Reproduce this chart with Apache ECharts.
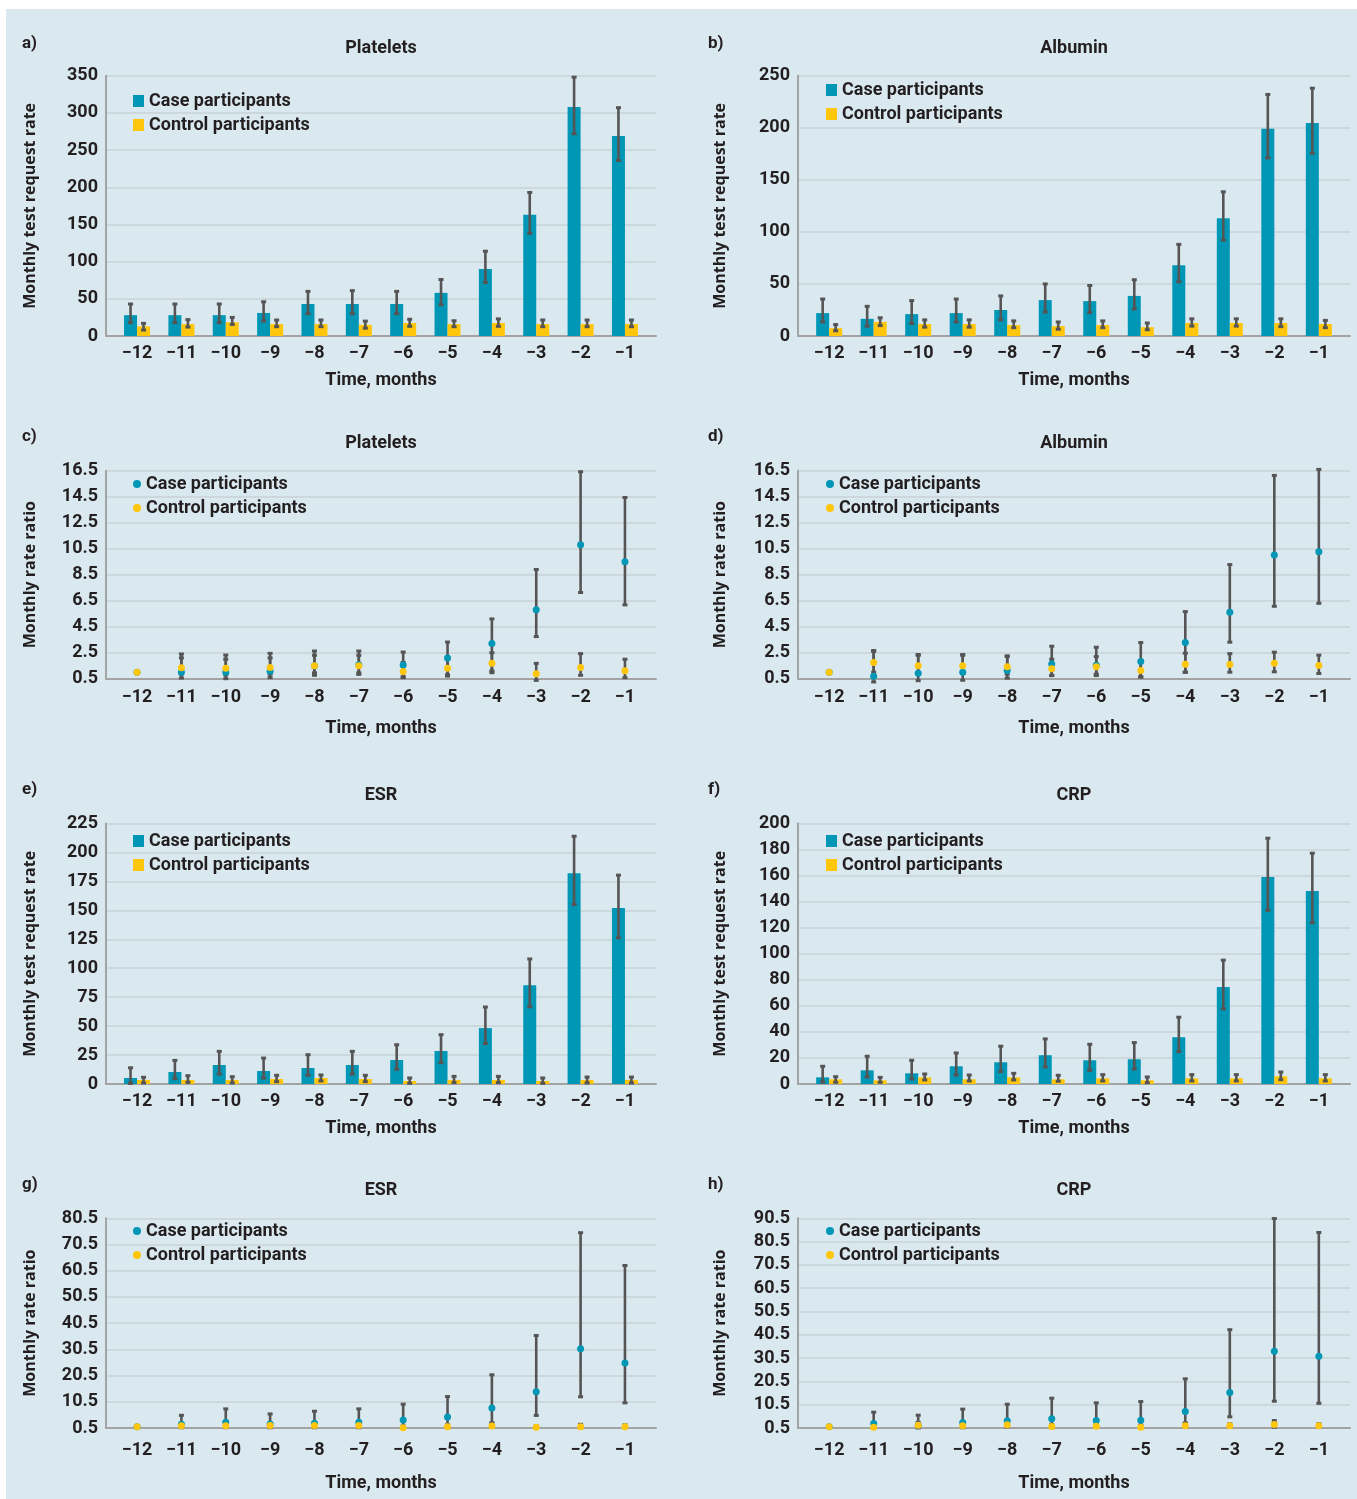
<!DOCTYPE html>
<html>
<head>
<meta charset="utf-8">
<script src="https://cdn.jsdelivr.net/npm/echarts@6/dist/echarts.min.js"></script>
<style>
html,body{margin:0;padding:0;background:#fff;}
#bg{position:absolute;left:6px;top:9px;width:1351px;height:1490px;background:#dae9f0;}
#main{position:absolute;left:0;top:0;width:1357px;height:1499px;}
</style>
</head>
<body>
<div id="bg"></div>
<div id="main"></div>
<script>
var months = [-12,-11,-10,-9,-8,-7,-6,-5,-4,-3,-2,-1];

// a) platelets, test request rate
var pltRateCase = [28,28,28,31,43,43,43,58,90,163,308,269];
var pltRateCaseCI = [[18,43],[18,43],[18,43],[20,46],[30,60],[30,61],[30,60],[42,76],[72,114],[138,193],[272,348],[236,307]];
var pltRateCtrl = [13,16,18.5,16,16,15,17.5,16,17.5,16,16,16];
var pltRateCtrlCI = [[8,17],[12,22],[15.5,25],[12.5,21.5],[12.5,21.5],[10.5,20],[13,22.5],[12.5,20.5],[13,23],[12.5,21.5],[12.5,21.5],[12.5,21.5]];

// b) albumin, test request rate
var albRateCase = [22,16.5,21,22,25,34.5,33.5,38.5,68,113,199,204.5];
var albRateCaseCI = [[13.5,35.5],[9.5,28.5],[12,34],[13.5,35.5],[15.5,38.5],[23,50],[22.5,48.5],[26,54],[52,88],[92,138.5],[171,232],[175.5,238]];
var albRateCtrl = [7.5,13.5,11.5,11.5,10.5,9.5,10.5,8.5,12.5,12.5,12.5,11.5];
var albRateCtrlCI = [[5,11],[10,17.5],[8.5,15.5],[8.5,15.5],[8,14.5],[6.5,13.5],[8,14.5],[6,12.5],[9.5,16.5],[9.5,16.5],[9,16.5],[8,15]];

// c) platelets, rate ratio
var pltRatioCase = [1.0,1.0,1.0,1.08,1.5,1.58,1.55,2.1,3.2,5.8,10.8,9.5];
var pltRatioCaseCI = [null,[0.55,2.4],[0.5,2.32],[0.58,2.45],[0.76,2.63],[0.83,2.63],[0.58,2.55],[0.7,3.32],[0.96,5.1],[3.74,8.9],[7.13,16.42],[6.18,14.44]];
var pltRatioCtrl = [1.0,1.35,1.3,1.37,1.5,1.5,1.06,1.3,1.68,0.89,1.37,1.12];
var pltRatioCtrlCI = [null,[0.85,2.1],[0.8,2.0],[0.85,2.1],[0.95,2.3],[0.95,2.3],[0.65,1.75],[0.8,2.1],[1.1,2.5],[0.37,1.68],[0.76,2.43],[0.58,2.0]];

// d) albumin, rate ratio
var albRatioCase = [1.0,0.69,0.92,1.0,1.13,1.64,1.54,1.82,3.28,5.61,10.02,10.27];
var albRatioCaseCI = [null,[0.25,2.67],[0.35,2.36],[0.38,2.36],[0.54,2.26],[0.74,3.0],[0.74,2.92],[0.62,3.28],[1.0,5.66],[3.31,9.28],[6.07,16.14],[6.3,16.6]];
var albRatioCtrl = [1.0,1.74,1.49,1.49,1.41,1.26,1.41,1.13,1.62,1.59,1.69,1.51];
var albRatioCtrlCI = [null,[1.0,2.6],[0.9,2.3],[0.9,2.3],[0.85,2.2],[0.75,2.0],[0.85,2.2],[0.65,1.9],[1.0,2.46],[1.0,2.43],[1.03,2.54],[0.9,2.31]];

// e) ESR, test request rate
var esrRateCase = [5.2,10.4,16.4,11.2,13.8,16.4,20.7,28.5,48.3,85.4,182,152];
var esrRateCaseCI = [[0.5,14],[4.6,20.4],[8.6,28.2],[5.2,22.4],[7.5,25.3],[8.6,28.2],[12.7,33.9],[18.4,42.6],[35,66.5],[66.7,108],[155,214],[126.3,180.4]];
var esrRateCtrl = [3.5,3.5,3.5,4.3,5.2,4.3,2.6,3.5,3.5,2.6,3.5,3.5];
var esrRateCtrlCI = [[0.9,5.8],[1.4,7.2],[0.9,6.3],[2,7.5],[2.6,7.8],[2,7.5],[0.6,5.2],[1.2,6.6],[1.2,6.6],[0.6,5.2],[0.9,6],[0.9,6]];

// f) CRP, test request rate
var crpRateCase = [5.1,10.5,8.2,13.6,16.7,22.1,18.2,19,35.9,74.4,159,148.2];
var crpRateCaseCI = [[1.5,13.6],[5.4,21.3],[3.8,18.2],[6.9,23.8],[9.5,29],[13.1,34.6],[10.5,30.5],[11.5,31.8],[24.9,51.3],[57.7,95.1],[133.3,188.7],[123.8,177.2]];
var crpRateCtrl = [3.6,2.8,5.1,3.6,5.1,3.6,4.4,2.8,4.4,4.4,5.9,4.4];
var crpRateCtrlCI = [[1.3,5.6],[1.3,5.1],[3.1,7.7],[2.3,6.9],[3.1,8.2],[2.1,6.7],[2.3,7.2],[1.0,5.4],[2.3,7.2],[2.3,7.2],[3.3,9.2],[2.3,7.2]];

// g) ESR, rate ratio
var esrRatioCase = [1.0,1.9,2.66,2.02,2.28,2.66,3.56,4.7,8.16,14.3,30.7,25.3];
var esrRatioCaseCI = [null,[0.6,5.35],[0.6,7.8],[0.6,5.86],[0.6,6.9],[0.6,7.8],[0.6,9.6],[1.0,12.5],[2.5,20.8],[5.3,35.8],[12.4,75],[10.1,62.5]];
var esrRatioCtrl = [1.0,1.38,1.38,1.5,1.5,1.5,0.6,1.0,1.25,0.75,1.0,1.0];
var esrRatioCtrlCI = [null,[0.9,2.1],[0.9,2.1],[1.0,2.2],[1.0,2.2],[1.0,2.2],[0.3,1.3],[0.6,1.7],[0.8,2.0],[0.4,1.3],[0.5,1.9],[0.6,1.7]];

// h) CRP, rate ratio
var crpRatioCase = [1.0,2.43,1.7,2.86,3.57,4.43,3.7,3.85,7.57,15.7,33.4,31.3];
var crpRatioCaseCI = [null,[0.6,7.3],[0.5,6.0],[0.6,8.6],[1.3,10.7],[1.3,13.3],[1.7,11.3],[1.7,11.85],[2.7,21.6],[5.3,42.7],[12,90.4],[11.1,84.4]];
var crpRatioCtrl = [1.0,0.86,1.7,1.43,1.86,1.14,1.29,0.86,1.43,1.43,2.0,1.43];
var crpRatioCtrlCI = [null,[0.5,1.6],[0.9,2.9],[0.8,2.3],[1.0,2.9],[0.6,2.0],[0.7,2.2],[0.5,1.5],[0.8,2.3],[0.8,2.3],[0.86,3.7],[0.8,2.3]];

var CASE = '#0096b6', CTRL = '#ffc60b', ERR = '#555555', TXT = '#231f20';
var DIN = 'Roboto', SANS = 'Open Sans';
var rateName = 'Monthly test request rate', ratioName = 'Monthly rate ratio';

// layout: column x / row y
var cols = [{left:106, width:550, tagX:22, yNameGap:68, legX:133},
            {left:798, width:552, tagX:708, yNameGap:70, legX:826}];
var rows = [{top:75.7, height:260.3, titleY:48, tagY:44, nameGap:35, labelMargin:8, legY:[101,90]},
            {top:470.7, height:208, titleY:443, tagY:437, nameGap:41, labelMargin:10, legY:[484,484]},
            {top:823.5, height:260.5, titleY:795, tagY:790, nameGap:35, labelMargin:8, legY:[841,841]},
            {top:1218.3, height:209.7, titleY:1190, tagY:1185, nameGap:46, labelMargin:13, legY:[1231,1231]}];

var panels = [
  {tag:'a)', title:'Platelets', kind:'bar', yMin:0, yMax:350, yStep:50, c:pltRateCase, cCI:pltRateCaseCI, k:pltRateCtrl, kCI:pltRateCtrlCI},
  {tag:'b)', title:'Albumin', kind:'bar', yMin:0, yMax:250, yStep:50, c:albRateCase, cCI:albRateCaseCI, k:albRateCtrl, kCI:albRateCtrlCI},
  {tag:'c)', title:'Platelets', kind:'dot', yMin:0.5, yMax:16.5, yStep:2, c:pltRatioCase, cCI:pltRatioCaseCI, k:pltRatioCtrl, kCI:pltRatioCtrlCI},
  {tag:'d)', title:'Albumin', kind:'dot', yMin:0.5, yMax:16.5, yStep:2, c:albRatioCase, cCI:albRatioCaseCI, k:albRatioCtrl, kCI:albRatioCtrlCI},
  {tag:'e)', title:'ESR', kind:'bar', yMin:0, yMax:225, yStep:25, c:esrRateCase, cCI:esrRateCaseCI, k:esrRateCtrl, kCI:esrRateCtrlCI},
  {tag:'f)', title:'CRP', kind:'bar', yMin:0, yMax:200, yStep:20, c:crpRateCase, cCI:crpRateCaseCI, k:crpRateCtrl, kCI:crpRateCtrlCI},
  {tag:'g)', title:'ESR', kind:'dot', yMin:0.5, yMax:80.5, yStep:10, c:esrRatioCase, cCI:esrRatioCaseCI, k:esrRatioCtrl, kCI:esrRatioCtrlCI},
  {tag:'h)', title:'CRP', kind:'dot', yMin:0.5, yMax:90.5, yStep:10, c:crpRatioCase, cCI:crpRatioCaseCI, k:crpRatioCtrl, kCI:crpRatioCtrlCI}
];

function errBar(dx){
  return function(params, api){
    var x = api.value(0), lo = api.value(1), hi = api.value(2);
    var a = api.coord([x, hi]), b = api.coord([x, lo]);
    var cx = a[0] + dx;
    return {type:'group', children:[
      {type:'line', shape:{x1:cx, y1:a[1], x2:cx, y2:b[1]}, style:{stroke:ERR, lineWidth:2.6}},
      {type:'rect', shape:{x:cx-2.5, y:a[1]-1.5, width:5, height:3}, style:{fill:ERR}},
      {type:'rect', shape:{x:cx-2.5, y:b[1]-1.5, width:5, height:3}, style:{fill:ERR}}
    ]};
  };
}
function pairs(vals){ return months.map(function(m,i){ return [m, vals[i]]; }); }
function ciData(ci){
  var out = [];
  months.forEach(function(m,i){ if(ci[i]) out.push([m, ci[i][0], ci[i][1]]); });
  return out;
}

var grid = [], xAxis = [], yAxis = [], series = [], legend = [], graphic = [];
var txt = {color:TXT, fontFamily:DIN, fontWeight:'bold', fontSize:18};

panels.forEach(function(p, i){
  var col = cols[i % 2], row = rows[Math.floor(i / 2)];
  grid.push({left:col.left, top:row.top, width:col.width, height:row.height});
  xAxis.push({
    gridIndex:i, type:'value', min:-12.7, max:-0.3,
    axisLine:{show:true, onZero:false, lineStyle:{color:'#a3a3a3', width:2}},
    axisTick:{show:false}, splitLine:{show:false},
    axisLabel:{customValues:months, formatter:function(v){ return '\u2212' + Math.abs(v); },
      margin:row.labelMargin, color:TXT, fontFamily:DIN, fontWeight:'bold', fontSize:18},
    name:'Time, months', nameLocation:'middle', nameGap:row.nameGap,
    nameTextStyle:txt
  });
  yAxis.push({
    gridIndex:i, type:'value', min:p.yMin, max:p.yMax, interval:p.yStep,
    axisLine:{show:true, lineStyle:{color:'#a3a3a3', width:2}},
    axisTick:{show:false},
    splitLine:{lineStyle:{color:'#c8d2d6', width:1.6}},
    axisLabel:{margin:8, color:TXT, fontFamily:DIN, fontWeight:'bold', fontSize:18},
    name:p.kind === 'bar' ? rateName : ratioName, nameLocation:'middle', nameGap:col.yNameGap,
    nameTextStyle:{color:TXT, fontFamily:SANS, fontWeight:'bold', fontSize:16}
  });
  var ax = {xAxisIndex:i, yAxisIndex:i};
  if (p.kind === 'bar') {
    series.push(Object.assign({type:'bar', name:'Case participants', barWidth:13, barGap:'0%',
      itemStyle:{color:CASE}, data:pairs(p.c), z:2}, ax));
    series.push(Object.assign({type:'bar', name:'Control participants', barWidth:13, barGap:'0%',
      itemStyle:{color:CTRL}, data:pairs(p.k), z:2}, ax));
    series.push(Object.assign({type:'custom', name:'Case CI', renderItem:errBar(-6.5),
      encode:{x:0, y:[1,2]}, data:ciData(p.cCI), z:3}, ax));
    series.push(Object.assign({type:'custom', name:'Control CI', renderItem:errBar(6.5),
      encode:{x:0, y:[1,2]}, data:ciData(p.kCI), z:3}, ax));
  } else {
    series.push(Object.assign({type:'custom', name:'Case CI', renderItem:errBar(0), clip:false,
      encode:{x:0, y:[1,2]}, data:ciData(p.cCI), z:2}, ax));
    series.push(Object.assign({type:'custom', name:'Control CI', renderItem:errBar(0), clip:false,
      encode:{x:0, y:[1,2]}, data:ciData(p.kCI), z:2}, ax));
    series.push(Object.assign({type:'scatter', name:'Case participants', symbol:'circle', symbolSize:7,
      itemStyle:{color:CASE, opacity:1}, data:pairs(p.c), z:3}, ax));
    series.push(Object.assign({type:'scatter', name:'Control participants', symbol:'circle', symbolSize:7,
      itemStyle:{color:CTRL, opacity:1}, data:pairs(p.k), z:4}, ax));
  }
  var icon = p.kind === 'bar' ? 'rect' : 'circle';
  var ly = row.legY[i % 2];
  legend.push({
    orient:'vertical', left:col.legX, top:ly - 11, itemGap:2, padding:0,
    itemWidth:p.kind === 'bar' ? 11 : 8, itemHeight:p.kind === 'bar' ? 12 : 8,
    selectedMode:false,
    data:[{name:'Case participants', icon:icon}, {name:'Control participants', icon:icon}],
    textStyle:{color:TXT, fontFamily:DIN, fontWeight:'bold', fontSize:18, lineHeight:22}
  });
  graphic.push({type:'text', x:col.left + col.width / 2, y:row.titleY,
    style:{text:p.title, x:0, y:0, textAlign:'center', textVerticalAlign:'middle', fill:TXT,
      font:'bold 18px ' + DIN}});
  graphic.push({type:'text', x:col.tagX, y:row.tagY,
    style:{text:p.tag, x:0, y:0, textAlign:'left', textVerticalAlign:'middle', fill:TXT,
      font:'bold 17px ' + DIN}});
});

var chart = echarts.init(document.getElementById('main'), null, {renderer:'canvas'});
chart.setOption({
  backgroundColor:'transparent',
  animation:false,
  grid:grid, xAxis:xAxis, yAxis:yAxis, series:series, legend:legend, graphic:graphic
});
</script>
</body>
</html>
